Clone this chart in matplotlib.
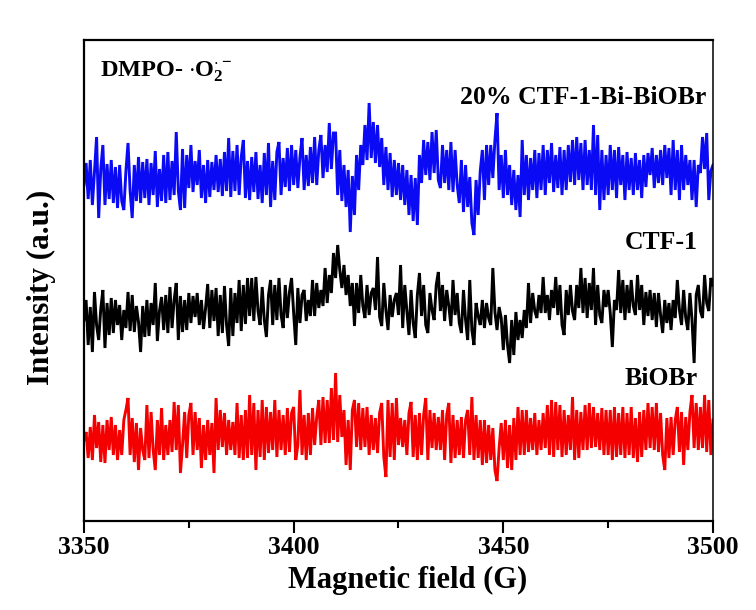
import numpy as np
import matplotlib
matplotlib.use("Agg")
import matplotlib.pyplot as plt
from matplotlib.ticker import MultipleLocator

# Field sweep (G)
field_start, field_end = 3350, 3500

# EPR intensities (a.u.), sampled every 0.5 G across the sweep
composite_20 = [
    336, 358, 322, 361, 316, 349, 384, 303, 352, 376,
    316, 357, 322, 361, 318, 354, 313, 356, 320, 311,
    350, 378, 330, 303, 356, 320, 364, 318, 359, 323,
    362, 316, 358, 326, 370, 314, 352, 320, 366, 318,
    369, 321, 360, 326, 389, 330, 311, 372, 313, 366,
    333, 376, 329, 360, 336, 371, 323, 356, 318, 361,
    324, 359, 331, 366, 329, 362, 325, 369, 330, 383,
    324, 370, 330, 376, 326, 364, 381, 323, 360, 321,
    364, 329, 369, 322, 356, 318, 368, 326, 378, 314,
    360, 321, 369, 379, 326, 363, 334, 373, 330, 376,
    336, 371, 333, 364, 383, 331, 366, 335, 374, 338,
    384, 336, 371, 386, 343, 376, 349, 398, 352, 388,
    388, 326, 371, 320, 356, 314, 351, 289, 345, 306,
    366, 331, 376, 356, 396, 361, 418, 363, 399, 358,
    396, 354, 383, 336, 374, 331, 368, 324, 361, 326,
    358, 321, 356, 316, 351, 306, 346, 300, 343, 296,
    366, 338, 381, 346, 379, 341, 389, 348, 391, 341,
    333, 376, 338, 371, 331, 379, 329, 371, 336, 318,
    361, 309, 356, 314, 344, 298, 286, 341, 306, 350,
    371, 321, 376, 336, 376, 343, 381, 408, 331, 366,
    323, 371, 326, 356, 316, 351, 311, 346, 304, 381,
    326, 366, 321, 363, 331, 371, 323, 368, 331, 376,
    326, 371, 338, 378, 329, 366, 333, 374, 326, 371,
    331, 376, 339, 381, 336, 384, 341, 378, 331, 381,
    336, 371, 331, 396, 326, 386, 311, 371, 321, 366,
    326, 376, 331, 371, 323, 374, 336, 366, 321, 369,
    331, 363, 326, 368, 331, 361, 323, 366, 334, 368,
    346, 373, 333, 366, 338, 371, 336, 376, 343, 373,
    326, 381, 331, 371, 321, 376, 331, 366, 336, 361,
    321, 361, 314, 356, 348, 384, 352, 388, 321, 350,
    356,
]

ctf1 = [
    201, 221, 176, 214, 169, 229, 196, 181, 212, 231,
    173, 218, 186, 223, 188, 221, 196, 216, 181, 211,
    193, 229, 190, 226, 189, 215, 199, 169, 215, 184,
    221, 185, 218, 196, 238, 180, 210, 224, 191, 226,
    188, 234, 193, 221, 238, 181, 225, 189, 221, 191,
    228, 198, 225, 204, 228, 196, 221, 192, 213, 237,
    193, 231, 200, 233, 185, 226, 188, 235, 196, 175,
    233, 185, 228, 198, 241, 190, 236, 197, 243, 205,
    243, 200, 244, 210, 196, 234, 201, 184, 226, 241,
    196, 236, 201, 243, 206, 193, 236, 203, 229, 243,
    208, 176, 233, 198, 226, 231, 200, 221, 205, 241,
    205, 238, 213, 231, 215, 253, 218, 246, 228, 268,
    243, 276, 251, 233, 256, 226, 246, 215, 238, 195,
    238, 208, 246, 215, 203, 236, 206, 228, 233, 211,
    264, 204, 195, 238, 211, 191, 226, 204, 221, 228,
    206, 256, 193, 236, 210, 186, 231, 198, 183, 226,
    248, 205, 236, 196, 188, 228, 211, 201, 236, 249,
    210, 236, 200, 231, 215, 195, 241, 206, 228, 198,
    188, 231, 201, 181, 241, 191, 176, 218, 205, 196,
    221, 193, 218, 203, 196, 253, 209, 191, 214, 203,
    171, 206, 176, 158, 201, 166, 209, 181, 201, 183,
    211, 193, 238, 198, 228, 210, 203, 226, 208, 244,
    208, 226, 201, 231, 213, 244, 206, 236, 196, 186,
    231, 206, 236, 210, 201, 236, 213, 253, 208, 243,
    203, 238, 211, 253, 196, 236, 206, 198, 231, 214,
    231, 208, 174, 221, 211, 251, 208, 241, 201, 236,
    208, 241, 215, 206, 246, 211, 236, 196, 229, 205,
    231, 201, 228, 194, 228, 206, 188, 221, 198, 218,
    191, 221, 203, 241, 211, 196, 231, 203, 191, 228,
    201, 158, 226, 236, 210, 203, 246, 218, 210, 243,
    236,
]

biobr = [
    81, 89, 63, 94, 61, 106, 73, 99, 59, 96,
    58, 101, 71, 104, 66, 96, 61, 91, 66, 101,
    111, 123, 66, 103, 59, 98, 51, 93, 71, 61,
    116, 63, 109, 71, 51, 101, 66, 113, 61, 96,
    66, 101, 69, 119, 71, 116, 48, 76, 109, 63,
    106, 118, 66, 109, 71, 103, 53, 96, 61, 101,
    66, 98, 48, 123, 71, 111, 74, 108, 66, 101,
    71, 99, 66, 118, 63, 106, 61, 111, 63, 126,
    66, 118, 51, 111, 64, 121, 61, 114, 68, 109,
    71, 121, 64, 111, 71, 106, 66, 113, 69, 108,
    114, 61, 76, 131, 66, 106, 61, 108, 66, 113,
    76, 104, 121, 76, 124, 78, 121, 78, 133, 81,
    148, 79, 126, 84, 111, 56, 101, 51, 111, 121,
    74, 118, 71, 113, 74, 114, 66, 106, 71, 103,
    68, 108, 118, 64, 44, 121, 64, 118, 61, 123,
    76, 103, 74, 101, 66, 108, 119, 64, 106, 61,
    108, 66, 106, 123, 61, 111, 73, 108, 71, 104,
    71, 111, 61, 106, 118, 58, 106, 63, 101, 66,
    104, 63, 101, 111, 66, 124, 61, 106, 63, 101,
    56, 101, 58, 96, 61, 93, 51, 40, 73, 98,
    61, 101, 53, 96, 51, 103, 61, 114, 66, 111,
    66, 111, 69, 103, 71, 108, 66, 101, 71, 108,
    73, 116, 66, 121, 64, 119, 71, 116, 64, 111,
    66, 106, 71, 124, 61, 111, 63, 109, 71, 116,
    71, 118, 73, 114, 74, 108, 71, 113, 66, 111,
    66, 111, 61, 114, 64, 108, 66, 114, 63, 108,
    66, 114, 63, 103, 59, 109, 64, 111, 71, 118,
    73, 114, 71, 118, 69, 108, 66, 51, 103, 63,
    104, 66, 101, 114, 69, 109, 56, 104, 71, 109,
    126, 73, 118, 71, 114, 73, 126, 69, 121, 66,
    101,
]

series_labels = ["20% CTF-1-Bi-BiOBr", "CTF-1", "BiOBr"]
series_colors = ["#0a0af5", "#000000", "#f50000"]
x_ticks = [3350, 3400, 3450, 3500]
probe_label = r"DMPO- $\cdot$O$_{2}^{\cdot-}$"

plt.rcParams["font.family"] = ["Liberation Serif", "DejaVu Serif"]
plt.rcParams["font.weight"] = "bold"
plt.rcParams["mathtext.fontset"] = "custom"
plt.rcParams["mathtext.rm"] = "Liberation Serif:bold"
plt.rcParams["mathtext.it"] = "Liberation Serif:bold"
plt.rcParams["mathtext.bf"] = "Liberation Serif:bold"

fig = plt.figure(figsize=(7.56, 6.10), dpi=100)
ax = fig.add_axes([0.1111, 0.1459, 0.832, 0.7885])

for values, color in zip([composite_20, ctf1, biobr], series_colors):
    field = np.linspace(field_start, field_end, len(values))
    ax.plot(field, values, color=color, lw=2.1, solid_joinstyle="miter")

ax.set_xlim(field_start, field_end)
ax.set_ylim(0, 481)
ax.set_xticks(x_ticks)
ax.xaxis.set_minor_locator(MultipleLocator(25))
ax.set_yticks([])
ax.tick_params(axis="x", which="major", direction="out", length=8.5, width=1.5,
               labelsize=18.5, pad=2.5, top=False)
ax.tick_params(axis="x", which="minor", direction="out", length=5, width=1.5, top=False)
for side in ["left", "bottom", "top"]:
    ax.spines[side].set_linewidth(1.6)
ax.spines["right"].set_linewidth(1.1)

ax.set_xlabel("Magnetic field (G)", fontsize=22, fontweight="bold")
ax.xaxis.set_label_coords(0.515, -0.094)
ax.set_ylabel("Intensity (a.u.)", fontsize=22.5, fontweight="bold")
ax.yaxis.set_label_coords(-0.045, 0.486)

ax.text(0.025, 0.933, probe_label, transform=ax.transAxes, fontsize=17.5,
        fontweight="bold", ha="left", va="center")
label_pos = [(0.99, 0.881), (0.976, 0.578), (0.975, 0.297)]
for text, (tx, ty) in zip(series_labels, label_pos):
    ax.text(tx, ty, text, transform=ax.transAxes, fontsize=18.5,
            fontweight="bold", ha="right", va="center")

fig.savefig("out.png", dpi=100, facecolor="white")
